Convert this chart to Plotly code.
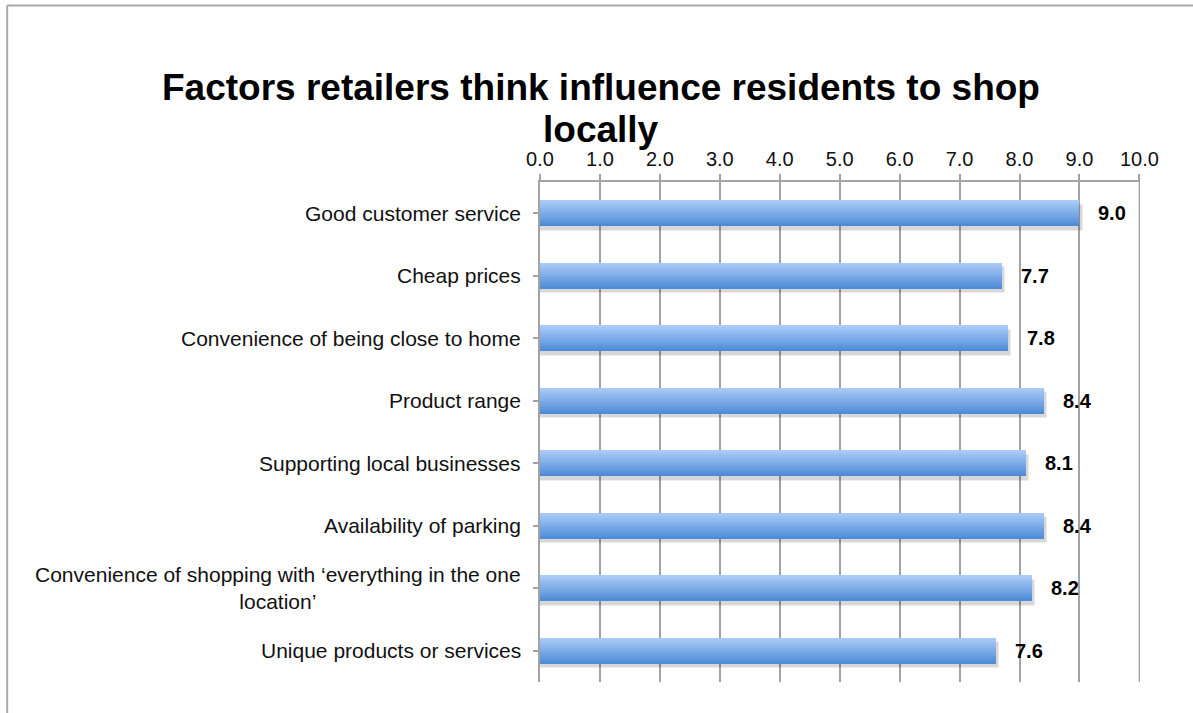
import plotly.graph_objects as go

# Survey results: mean rating by factor (0-10 scale)
factors = [
    "Good customer service",
    "Cheap prices",
    "Convenience of being close to home",
    "Product range",
    "Supporting local businesses",
    "Availability of parking",
    "Convenience of shopping with \u2018everything in the one<br>location\u2019",
    "Unique products or services",
]
scores = [9.0, 7.7, 7.8, 8.4, 8.1, 8.4, 8.2, 7.6]
tick_values = [0, 1, 2, 3, 4, 5, 6, 7, 8, 9, 10]

FONT = "Arial, Liberation Sans, Helvetica, sans-serif"
GRID = "#a3a3a3"
BAR_HALF = 0.208
N_STRIPS = 16
TOP_RGB = (170, 203, 247)
BOT_RGB = (78, 140, 215)

cats = list(range(len(factors)))
fig = go.Figure()

# soft drop shadow under each bar
for dx, off, alpha in [(0.06, 0.03, 0.07), (0.035, 0.015, 0.09)]:
    fig.add_trace(go.Bar(
        y=cats, x=[s + dx for s in scores], orientation="h",
        offset=-BAR_HALF + off + 0.04, width=2 * BAR_HALF,
        marker=dict(color=f"rgba(0,0,0,{alpha})", line=dict(width=0)),
        hoverinfo="skip", showlegend=False,
    ))

# vertical gradient built from thin horizontal strips (light on top, darker below);
# each strip overlaps the next one to avoid anti-aliasing seams
strip_w = 2 * BAR_HALF / N_STRIPS
for i in range(N_STRIPS):
    t = i / (N_STRIPS - 1)
    rgb = tuple(round(a + (b - a) * t) for a, b in zip(TOP_RGB, BOT_RGB))
    w = strip_w if i == N_STRIPS - 1 else strip_w * 2
    fig.add_trace(go.Bar(
        y=cats, x=scores, orientation="h",
        offset=-BAR_HALF + i * strip_w, width=w,
        marker=dict(color=f"rgb{rgb}", line=dict(width=0)),
        hoverinfo="skip", showlegend=False,
    ))

annotations = []
# value labels to the right of each bar
for c, s in zip(cats, scores):
    annotations.append(dict(
        x=s, y=c, xref="x", yref="y", text=f"<b>{s:.1f}</b>",
        xanchor="left", yanchor="middle", xshift=17, showarrow=False,
        font=dict(family=FONT, size=20, color="#000000"),
    ))
# category labels, centred line by line
for c, name in zip(cats, factors):
    annotations.append(dict(
        x=0, y=c, xref="x", yref="y", text=name,
        xanchor="right", yanchor="middle", xshift=-17, align="center",
        showarrow=False, font=dict(family=FONT, size=21, color="#111111"),
    ))
# two-line bold title
for line, yp in [("Factors retailers think influence residents to shop", 1.189),
                 ("locally", 1.104)]:
    annotations.append(dict(
        x=0.102, y=yp, xref="paper", yref="paper", text=f"<b>{line}</b>",
        xanchor="center", yanchor="middle", showarrow=False,
        font=dict(family=FONT, size=37, color="#000000"),
    ))

shapes = [
    # outer frame (top and left edges)
    dict(type="line", xref="paper", yref="paper", x0=-0.888, x1=1.2,
         y0=1.353, y1=1.353, line=dict(color="#a8a8a8", width=2)),
    dict(type="line", xref="paper", yref="paper", x0=-0.888, x1=-0.888,
         y0=-0.1, y1=1.353, line=dict(color="#a8a8a8", width=2)),
    # gridline at the last tick, on the right edge of the plot area
    dict(type="line", xref="x", yref="paper", x0=tick_values[-1], x1=tick_values[-1],
         y0=0, y1=1, layer="below", line=dict(color=GRID, width=1.5)),
]

fig.update_layout(
    width=1193, height=713,
    margin=dict(l=540, r=53, t=182, b=31),
    paper_bgcolor="white", plot_bgcolor="white",
    barmode="overlay", bargap=0,
    showlegend=False,
    annotations=annotations, shapes=shapes,
    font=dict(family=FONT, color="#111111"),
    xaxis=dict(
        side="top", range=[0, 10.01], tickvals=tick_values, tickformat=".1f",
        showgrid=True, gridcolor=GRID, gridwidth=1.5, zeroline=False,
        showline=True, linecolor=GRID, linewidth=1.5,
        ticks="outside", ticklen=6, tickcolor=GRID, tickwidth=1.5,
        tickfont=dict(family=FONT, size=20, color="#111111"),
        fixedrange=True,
    ),
    yaxis=dict(
        range=[len(factors) - 0.5, -0.5], tickvals=cats,
        showticklabels=False, showgrid=False, zeroline=False,
        showline=True, linecolor=GRID, linewidth=1.5,
        ticks="outside", ticklen=5, tickcolor=GRID, tickwidth=1.5,
        tickson="boundaries", fixedrange=True,
    ),
)

fig.write_html("out.html")
